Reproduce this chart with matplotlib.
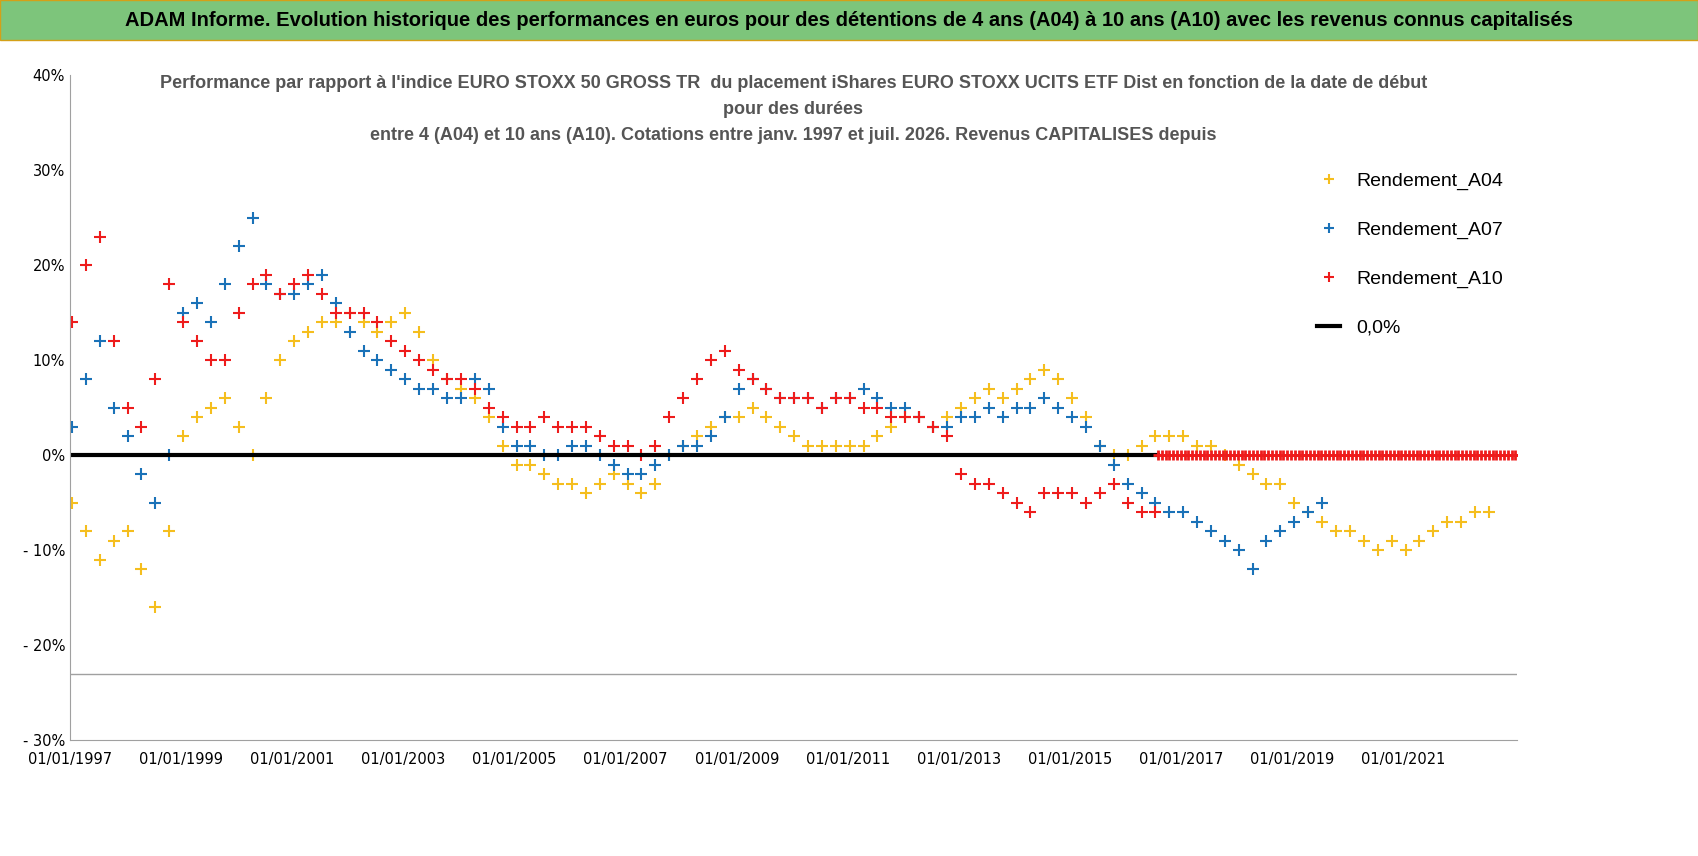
import numpy as np
import datetime as dt
import matplotlib
matplotlib.use('Agg')
import matplotlib.pyplot as plt
import matplotlib.dates as mdates

# quarterly estimates (%), starting Q1 1997
a04 = [-5, -8, -11, -9, -8, -12, -16, -8, 2, 4, 5, 6, 3, 0, 6, 10,
       12, 13, 14, 14, 15, 14, 13, 14, 15, 13, 10, 8, 7, 6, 4, 1,
       -1, -1, -2, -3, -3, -4, -3, -2, -3, -4, -3, 0, 1, 2, 3, 4,
       4, 5, 4, 3, 2, 1, 1, 1, 1, 1, 2, 3, 4, 4, 3, 4,
       5, 6, 7, 6, 7, 8, 9, 8, 6, 4, 1, 0, 0, 1, 2, 2,
       2, 1, 1, 0, -1, -2, -3, -3, -5, -6, -7, -8, -8, -9, -10, -9,
       -10, -9, -8, -7, -7, -6, -6]
a07 = [3, 8, 12, 5, 2, -2, -5, 0, 15, 16, 14, 18, 22, 25, 18, 17,
       17, 18, 19, 16, 13, 11, 10, 9, 8, 7, 7, 6, 6, 8, 7, 3,
       1, 1, 0, 0, 1, 1, 0, -1, -2, -2, -1, 0, 1, 1, 2, 4,
       7, 8, 7, 6, 6, 6, 5, 6, 6, 7, 6, 5, 5, 4, 3, 3,
       4, 4, 5, 4, 5, 5, 6, 5, 4, 3, 1, -1, -3, -4, -5, -6,
       -6, -7, -8, -9, -10, -12, -9, -8, -7, -6, -5]
a10 = [14, 20, 23, 12, 5, 3, 8, 18, 14, 12, 10, 10, 15, 18, 19, 17,
       18, 19, 17, 15, 15, 15, 14, 12, 11, 10, 9, 8, 8, 7, 5, 4,
       3, 3, 4, 3, 3, 3, 2, 1, 1, 0, 1, 4, 6, 8, 10, 11,
       9, 8, 7, 6, 6, 6, 5, 6, 6, 5, 5, 4, 4, 4, 3, 2,
       -2, -3, -3, -4, -5, -6, -4, -4, -4, -5, -4, -3, -5, -6, -6]
a10_zero_quarters = 26  # red points sitting at 0 % after mid-2016
tick_years = list(range(1997, 2023, 2))

def qdates(start, n):
    out = []
    for i in range(n):
        y = start + i // 4
        m = 1 + 3 * (i % 4)
        out.append(dt.date(y, m, 15))
    return out

fig = plt.figure(figsize=(16.98, 8.56), dpi=100)
fig.patch.set_facecolor('white')
fig.patches.append(plt.Rectangle((0, 0.953), 1, 0.047, transform=fig.transFigure,
                                 facecolor='#7dc57b', edgecolor='#d4a017', lw=1))
fig.text(0.5, 0.976, "ADAM Informe. Evolution historique des performances en euros pour des détentions de 4 ans (A04) à 10 ans (A10) avec les revenus connus capitalisés",
         ha='center', va='center', fontsize=14.5, fontweight='bold', color='black', family='Liberation Sans')

ax = fig.add_axes([0.0412, 0.135, 0.852, 0.777])
d04 = qdates(1997, len(a04))
d07 = qdates(1997, len(a07))
d10 = qdates(1997, len(a10))
dz = [dt.date(2016, 8, 1) + dt.timedelta(days=25 * i) for i in range(a10_zero_quarters * 4)]

ax.plot(d04, np.array(a04) / 100, '+', color='#f5be1e', ms=9, mew=1.5, label='Rendement_A04', ls='none')
ax.plot(d07, np.array(a07) / 100, '+', color='#1a72b8', ms=9, mew=1.5, label='Rendement_A07', ls='none')
ax.plot(d10, np.array(a10) / 100, '+', color='#ee1c1c', ms=9, mew=1.5, label='Rendement_A10', ls='none')
ax.plot([dt.date(1997, 1, 1), dt.date(2016, 8, 1)], [0, 0], color='black', lw=3, label='0,0%')
ax.plot(dz, np.zeros(len(dz)), '+', color='#ee1c1c', ms=7, mew=2)
ax.axhline(-0.23, color='#a0a0a0', lw=1)

ax.set_xlim(dt.date(1997, 1, 1), dt.date(2023, 1, 15))
ax.set_ylim(-0.30, 0.40)
ax.set_yticks(np.arange(-0.3, 0.41, 0.1))
ax.set_yticklabels(['- 30%', '- 20%', '- 10%', '0%', '10%', '20%', '30%', '40%'], fontsize=10.5)
ax.set_xticks([dt.date(y, 1, 1) for y in tick_years])
ax.xaxis.set_major_formatter(mdates.DateFormatter('%d/%m/%Y'))
ax.tick_params(axis='x', labelsize=10.5, length=0, pad=8)
ax.tick_params(axis='y', length=0)
for s in ['top', 'right']:
    ax.spines[s].set_visible(False)
ax.spines['bottom'].set_color('#a0a0a0')
ax.spines['left'].set_color('#a0a0a0')

ax.set_title("Performance par rapport à l'indice EURO STOXX 50 GROSS TR  du placement iShares EURO STOXX UCITS ETF Dist en fonction de la date de début\npour des durées\nentre 4 (A04) et 10 ans (A10). Cotations entre janv. 1997 et juil. 2026. Revenus CAPITALISES depuis",
             fontsize=13, fontweight='bold', color='#555555', family='Liberation Sans', y=0.89, linespacing=1.7)

ax.legend(loc='upper left', bbox_to_anchor=(0.85, 0.88), frameon=False,
          labelspacing=1.6, handlelength=1.2, markerscale=0.8,
          prop={'family': 'Liberation Sans', 'size': 14})

fig.savefig('out.png', dpi=100)
